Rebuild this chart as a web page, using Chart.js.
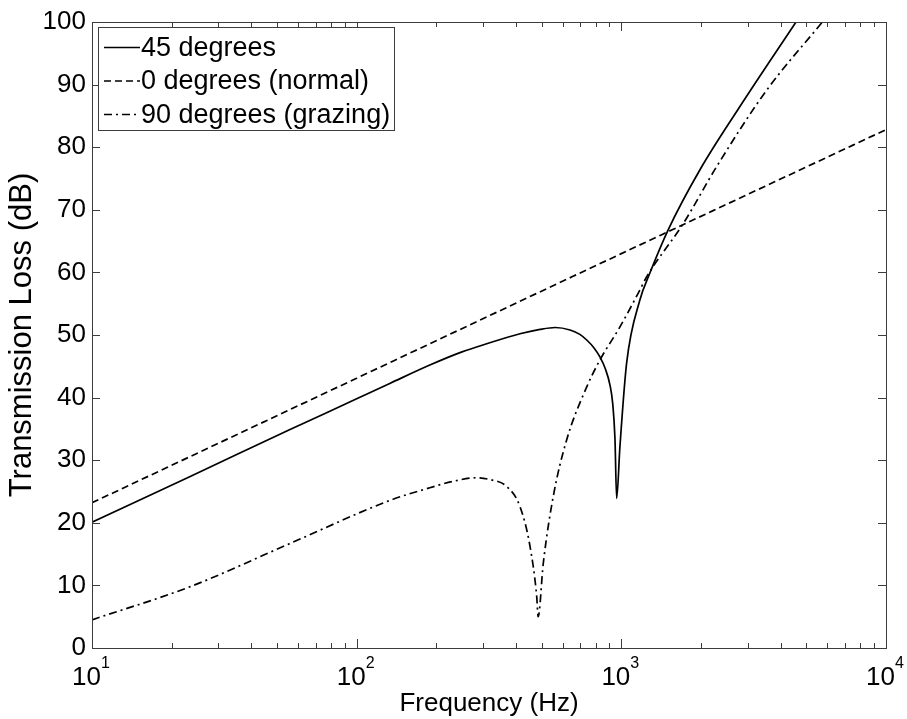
<!DOCTYPE html>
<html>
<head>
<meta charset="utf-8">
<script src="https://cdn.jsdelivr.net/npm/chart.js@4.4.1/dist/chart.umd.min.js"></script>
<style>
  html, body { margin: 0; padding: 0; background: #fff; }
  #wrap { width: 907px; height: 719px; }
</style>
</head>
<body>
<div id="wrap"><canvas id="tlChart"></canvas></div>
<script>
const FONT = "'Liberation Sans', Arial, sans-serif";

// 45 degrees incidence
const freq45 = [10, 23.5, 56, 100, 134, 189, 250, 310, 414, 493, 563, 640, 697, 740, 790, 830, 870, 906, 928, 946, 960, 988, 1047, 1175, 1282, 1503, 1982, 2806, 4571];
const tl45 = [20.1, 27.4, 34.9, 39.8, 42.3, 45.2, 47.3, 48.6, 50.2, 50.9, 51.2, 50.8, 50.1, 49.2, 47.9, 46.5, 44.6, 42.0, 39.0, 33.5, 23.9, 32.2, 45.5, 55.6, 59.9, 66.8, 76.4, 86.5, 100];

// 0 degrees (normal)
const freq0 = [10, 100, 1000, 10000];
const tl0 = [23.2, 43.1, 63.0, 82.8];

// 90 degrees (grazing)
const freq90 = [10, 23.5, 56, 134, 189, 230, 284, 319, 369, 414, 452, 479, 485, 507, 553, 621, 740, 830, 988, 1159, 1247, 1714, 2291, 3540, 5750];
const tl90 = [4.5, 9.8, 16.7, 23.6, 25.6, 26.6, 27.2, 26.9, 25.8, 22.6, 16.2, 8.2, 5.0, 13.5, 24.2, 33.2, 41.7, 46.0, 51.3, 56.7, 59.3, 67.8, 76.9, 89.1, 100];

const yTicks = [0, 10, 20, 30, 40, 50, 60, 70, 80, 90, 100];
const xDecades = [10, 100, 1000, 10000];
const xExponents = ["1", "2", "3", "4"];

const toPoints = (xs, ys) => xs.map((f, i) => ({ x: f, y: ys[i] }));

// box, inward ticks, superscript labels and legend, MATLAB style
const matlabAxes = {
    id: "matlabAxes",
    afterDraw(chart) {
        const { ctx, chartArea: a, scales } = chart;
        const x = scales.x, y = scales.y;
        ctx.save();
        ctx.strokeStyle = "#3c3c3c";
        ctx.lineWidth = 1;
        ctx.strokeRect(a.left + 0.5, a.top + 0.5, a.right - a.left, a.bottom - a.top);

        ctx.beginPath();
        yTicks.forEach((v) => {
            const py = Math.round(y.getPixelForValue(v)) + 0.5;
            ctx.moveTo(a.left, py); ctx.lineTo(a.left + 8, py);
            ctx.moveTo(a.right, py); ctx.lineTo(a.right - 8, py);
        });
        xDecades.forEach((d, i) => {
            const px = Math.round(x.getPixelForValue(d)) + 0.5;
            ctx.moveTo(px, a.bottom); ctx.lineTo(px, a.bottom - 9);
            ctx.moveTo(px, a.top); ctx.lineTo(px, a.top + 9);
            if (i < xDecades.length - 1) {
                for (let m = 2; m <= 9; m++) {
                    const mx = Math.round(x.getPixelForValue(d * m)) + 0.5;
                    ctx.moveTo(mx, a.bottom); ctx.lineTo(mx, a.bottom - 5);
                    ctx.moveTo(mx, a.top); ctx.lineTo(mx, a.top + 5);
                }
            }
        });
        ctx.stroke();

        // x tick labels 10^n
        ctx.fillStyle = "#000";
        ctx.textBaseline = "alphabetic";
        xDecades.forEach((d, i) => {
            const px = x.getPixelForValue(d);
            ctx.font = "26px " + FONT;
            ctx.textAlign = "right";
            ctx.fillText("10", px + 9, 685);
            ctx.font = "16px " + FONT;
            ctx.textAlign = "left";
            ctx.fillText(xExponents[i], px + 9, 668);
        });

        // legend
        const lx = a.left + 6, ly = a.top + 5, lw = 296, lh = 103;
        ctx.fillStyle = "#fff";
        ctx.fillRect(lx, ly, lw, lh);
        ctx.strokeStyle = "#3c3c3c";
        ctx.lineWidth = 1;
        ctx.strokeRect(lx + 0.5, ly + 0.5, lw, lh);
        chart.data.datasets.forEach((ds, i) => {
            const ry = ly + 20.5 + i * 33.5;
            ctx.strokeStyle = ds.borderColor;
            ctx.lineWidth = ds.borderWidth;
            ctx.setLineDash(ds.borderDash || []);
            ctx.beginPath();
            ctx.moveTo(lx + 6, ry);
            ctx.lineTo(lx + 42, ry);
            ctx.stroke();
            ctx.setLineDash([]);
            ctx.fillStyle = "#000";
            ctx.font = "27px " + FONT;
            ctx.textAlign = "left";
            ctx.textBaseline = "middle";
            ctx.fillText(ds.label, lx + 43, ry + 1);
        });
        ctx.restore();
    },
};

const tlCtx = document.getElementById("tlChart").getContext("2d");
const tlChart = new Chart(tlCtx, {
    type: "line",
    data: {
        datasets: [
            {
                label: "45 degrees",
                data: toPoints(freq45, tl45),
                borderColor: "#000",
                borderWidth: 1.7,
                borderDash: [],
            },
            {
                label: "0 degrees (normal)",
                data: toPoints(freq0, tl0),
                borderColor: "#000",
                borderWidth: 1.7,
                borderDash: [7, 4],
            },
            {
                label: "90 degrees (grazing)",
                data: toPoints(freq90, tl90),
                borderColor: "#000",
                borderWidth: 1.7,
                borderDash: [8, 4, 2, 4],
            },
        ],
    },
    options: {
        responsive: true,
        maintainAspectRatio: false,
        animation: false,
        layout: { padding: { top: 22, right: 21, bottom: 0, left: 0 } },
        elements: {
            point: { radius: 0 },
            line: { cubicInterpolationMode: "monotone", fill: false },
        },
        plugins: {
            legend: { display: false },
            tooltip: { enabled: false },
        },
        scales: {
            x: {
                type: "logarithmic",
                min: 10,
                max: 10000,
                grid: { display: false, drawTicks: false },
                border: { display: false },
                ticks: { display: false },
                title: {
                    display: true,
                    text: "Frequency (Hz)",
                    color: "#000",
                    font: { family: FONT, size: 26 },
                    padding: { top: 0, bottom: 0 },
                },
                afterFit: (scale) => { scale.height = 71; },
            },
            y: {
                min: 0,
                max: 100,
                grid: { display: false, drawTicks: false },
                border: { display: false },
                ticks: {
                    stepSize: 10,
                    padding: 6,
                    color: "#000",
                    font: { family: FONT, size: 26 },
                },
                title: {
                    display: true,
                    text: "Transmission Loss (dB)",
                    color: "#000",
                    font: { family: FONT, size: 31 },
                    padding: { top: 4, bottom: 0 },
                },
                afterFit: (scale) => { scale.width = 92; },
            },
        },
    },
    plugins: [matlabAxes],
});
</script>
</body>
</html>
